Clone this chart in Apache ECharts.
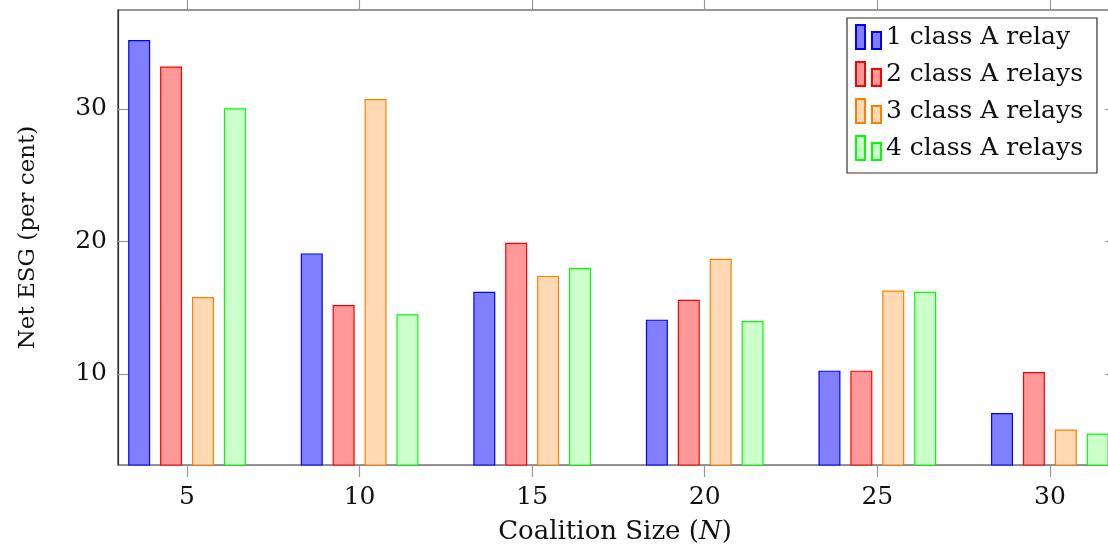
<!DOCTYPE html>
<html>
<head>
<meta charset="utf-8">
<script src="https://cdn.jsdelivr.net/npm/echarts@6/dist/echarts.min.js"></script>
<style>
  html, body { margin: 0; padding: 0; background: #fff; }
  #chart { width: 1108px; height: 550px; }
</style>
</head>
<body>
<div id="chart"></div>
<script>
// Coalition sizes and net ESG (per cent) for each number of class A relays
const coalitionSizes = [5, 10, 15, 20, 25, 30];
const oneRelay    = [35.2, 19.1, 16.2, 14.1, 10.25, 7.05];
const twoRelays   = [33.2, 15.2, 19.9, 15.6, 10.25, 10.15];
const threeRelays = [15.8, 30.75, 17.4, 18.7, 16.3, 5.8];
const fourRelays  = [30.05, 14.5, 18.0, 14.0, 16.2, 5.5];

const xTicks = [5, 10, 15, 20, 25, 30];
const yTicks = [10, 20, 30];

const seriesNames = ['1 class A relay', '2 class A relays', '3 class A relays', '4 class A relays'];
const seriesValues = [oneRelay, twoRelays, threeRelays, fourRelays];
const fills   = ['#8080ff', '#ff9999', '#ffd9b3', '#ccffcc'];
const borders = ['#0000ff', '#ff0000', '#ff8000', '#00ff00'];

const FONT = '"DejaVu Serif", "Liberation Serif", serif';
const legendIcon = 'path://M0,0H9V24H0Z M16,7H25V24H16Z';

const chart = echarts.init(document.getElementById('chart'), null, { renderer: 'canvas' });

const series = seriesValues.map((vals, i) => ({
  name: seriesNames[i],
  type: 'bar',
  xAxisIndex: 0,
  yAxisIndex: 0,
  barWidth: 22,
  barGap: '45%',
  clip: true,
  data: coalitionSizes.map((x, j) => [x, vals[j]]),
  itemStyle: { color: fills[i], borderColor: borders[i], borderWidth: 1.2 },
  emphasis: { disabled: true }
}));

chart.setOption({
  animation: false,
  backgroundColor: '#fff',
  textStyle: { fontFamily: FONT },
  grid: {
    left: 118, top: 10, right: -4, bottom: 85,
    containLabel: false,
    outerBoundsMode: 'none',
    show: true, borderColor: '#333', borderWidth: 1.2, backgroundColor: 'transparent'
  },
  legend: {
    orient: 'vertical',
    left: 847, top: 18,
    padding: [6, 14, 12, 8],
    itemWidth: 25, itemHeight: 24, itemGap: 11,
    icon: legendIcon,
    backgroundColor: '#fff',
    borderColor: '#333', borderWidth: 1.2, borderRadius: 0,
    textStyle: { fontFamily: FONT, fontSize: 25, color: '#111', lineHeight: 24 },
    selectedMode: false,
    data: seriesNames
  },
  xAxis: [{
    type: 'value', min: 3, max: 31.8,
    name: 'Coalition Size ({i|N})',
    nameLocation: 'middle', nameGap: 54,
    nameTextStyle: {
      fontFamily: FONT, fontSize: 26, color: '#111',
      rich: { i: { fontFamily: FONT, fontSize: 26, fontStyle: 'italic', color: '#111' } }
    },
    axisLine: { show: true, lineStyle: { color: '#888', width: 1.2 } },
    axisTick: { show: true, inside: false, length: 12, lineStyle: { color: '#999', width: 1.2 }, customValues: xTicks },
    axisLabel: { fontFamily: FONT, fontSize: 25, color: '#111', margin: 20, customValues: xTicks },
    splitLine: { show: false }
  }, {
    type: 'value', min: 3, max: 31.8, position: 'top',
    axisLine: { show: false },
    axisTick: { show: true, inside: false, length: 10, lineStyle: { color: '#999', width: 1.2 }, customValues: xTicks },
    axisLabel: { show: false },
    splitLine: { show: false }
  }],
  yAxis: [{
    type: 'value', min: 3.13, max: 37.47,
    name: 'Net ESG (per cent)',
    nameLocation: 'middle', nameGap: 78, nameRotate: 90,
    nameTextStyle: { fontFamily: FONT, fontSize: 23, color: '#111' },
    axisLine: { show: true, lineStyle: { color: '#333', width: 1.2 } },
    axisTick: { show: true, inside: true, length: 10, lineStyle: { color: '#999', width: 1.2 }, customValues: yTicks },
    axisLabel: { fontFamily: FONT, fontSize: 25, color: '#111', margin: 11, customValues: yTicks },
    splitLine: { show: false }
  }, {
    type: 'value', min: 3.13, max: 37.47, position: 'right',
    axisLine: { show: false },
    axisTick: { show: true, inside: true, length: 7, lineStyle: { color: '#999', width: 1.2 }, customValues: yTicks },
    axisLabel: { show: false },
    splitLine: { show: false }
  }],
  series: series
});
</script>
</body>
</html>
